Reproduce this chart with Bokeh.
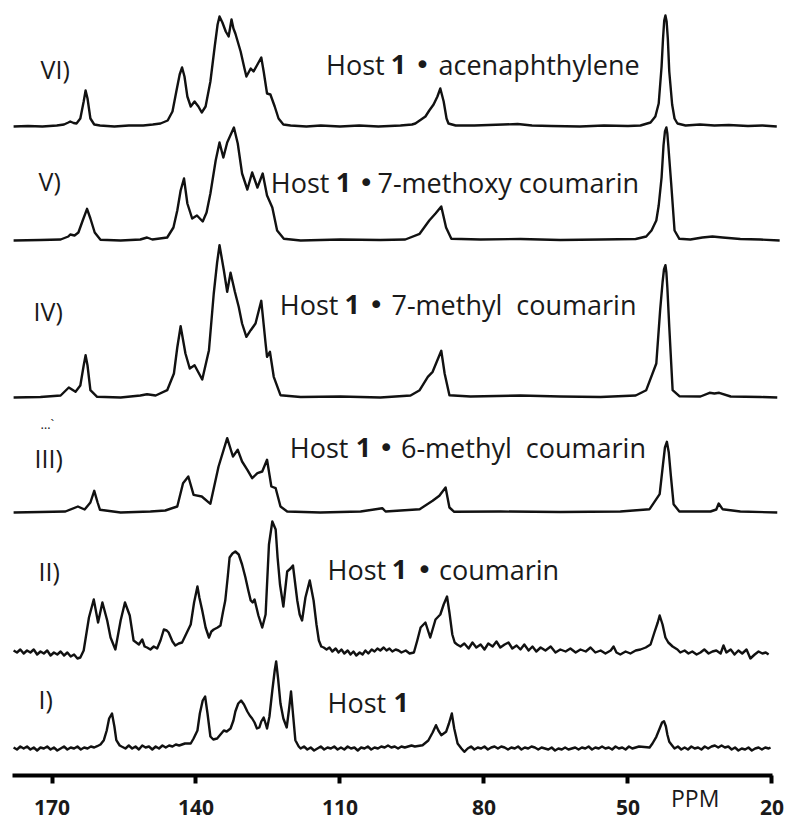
from bokeh.plotting import figure
from bokeh.models import Range1d, FixedTicker, Label, LinearAxis
from bokeh.embed import file_html
from bokeh.resources import INLINE

# ---------------- data (ppm, intensity above own baseline) ----------------
spec_VI = [(178.0,0),(175.0,0.5),(172.0,0),(169.0,1),(167.5,2),(166.6,4),(166.2,5),(165.5,3.5),(164.9,3),
    (164.1,8),(163.4,25),(163.0,36),(162.6,28),(162.0,8),(161.2,2),(160.0,1),(157.0,0),(154.0,1),(151.0,1),
    (149.0,2),(147.4,3),(145.9,6),(144.9,15),(144.1,35),(143.4,52),(142.9,59),(142.4,50),(141.8,30),(141.1,20),
    (140.3,25),(139.5,20),(138.8,14),(138.0,20),(137.0,45),(136.1,80),(135.5,102),(135.1,110),(134.5,104),
    (133.8,95),(133.2,90),(132.6,107),(132.2,98),(131.8,93),(130.7,75),(129.9,58),(129.5,50),(128.6,58),
    (128.0,55),(127.2,62),(126.4,69),(125.9,55),(125.2,33),(124.5,32),(123.6,20),(122.8,8),(121.8,2),(120.3,1),
    (117.0,0),(114.0,1),(110.0,0),(106.0,1),(102.0,0),(97.4,1),(95.0,2),(94.3,3),(92.2,10),(91.4,16),(90.5,22),
    (89.7,30),(89.1,38),(88.4,25),(87.8,8),(87.4,3),(85.9,1),(82.0,1),(76.0,2),(73.0,2.5),(70.0,1),(66.0,0.5),
    (60.0,0),(55.0,1),(50.0,0.5),(47.4,1),(45.3,4),(44.3,10),(43.6,23),(43.0,60),(42.7,88),(42.45,106),
    (42.2,111),(41.95,105),(41.7,88),(41.4,55),(40.8,22),(40.3,8),(39.7,3),(38.0,1),(35.0,2),(32.0,1),
    (29.0,1.5),(25.0,0.5),(22.0,1),(19.0,0)]

spec_V = [(178.0,0),(172.4,0.5),(168.2,1),(166.6,4),(166.2,6),(165.3,5),(164.5,8),(163.6,20),(162.7,31.7),
    (162.0,22),(161.1,8),(159.9,0.7),(155.7,0),(151.6,1),(150.2,3),(149.1,1),(146.0,3),(144.7,13),(143.9,30),
    (143.2,50),(142.5,62),(141.8,37),(140.8,22),(139.8,25),(138.6,19),(137.8,28),(137.0,47),(135.9,80),
    (135.1,98),(134.3,83),(133.5,98),(132.1,113),(131.3,97),(130.4,67),(129.3,51),(128.3,68),(127.2,53),
    (126.1,67),(125.2,45),(124.1,33),(123.1,10),(121.7,1.7),(118.2,0),(109.9,1),(101.6,0.5),(96.4,1),(93.4,6.7),
    (91.4,20),(90.1,27),(88.9,34),(87.9,13),(86.8,1.7),(80.7,1),(72.4,1.5),(64.1,0.5),(55.7,1),(48.4,1.5),
    (46.2,4),(45.1,10),(44.1,20),(43.6,35),(43.0,63),(42.6,95),(42.3,109),(42.0,113),(41.8,107),(41.6,95),
    (41.0,57),(40.3,10),(39.3,1.7),(37.0,1),(34.5,3),(32.4,4),(30.3,3),(26.6,1.5),(22.4,1),(18.4,0)]

spec_IV = [(178.0,0),(172.4,0.5),(168.2,2),(166.5,10),(165.1,5.7),(164.1,12),(163.4,32),(163.0,42.3),
    (162.6,32),(162.0,7.3),(160.6,0.7),(155.7,0),(151.6,2),(150.2,3.3),(148.4,2),(146.0,7.3),(144.6,24),
    (143.9,50),(143.2,71.3),(142.2,44),(141.3,29),(140.3,32.3),(138.7,18),(137.3,47.3),(136.3,104),(135.6,135),
    (135.1,152.3),(134.2,127.3),(133.5,105.7),(132.8,124.7),(131.9,105.7),(131.1,90.7),(130.4,74),(129.5,60.7),
    (128.6,67.3),(127.6,74),(126.4,96.7),(125.5,54),(125.2,40.7),(124.6,45.7),(123.8,20.7),(122.4,2.3),
    (118.2,0.5),(109.9,1),(101.6,0),(95.3,2),(93.4,7.3),(91.7,20.7),(90.7,25.7),(88.9,46.7),(88.2,24),
    (87.2,2.3),(82.8,1),(72.4,2),(64.1,1),(55.7,0.5),(48.4,2),(46.2,7.3),(44.1,34),(43.3,87.3),(42.8,115),
    (42.5,128),(42.2,132.3),(42.0,125),(41.8,110),(41.4,70.7),(40.7,7.3),(39.3,1.3),(34.9,1),(33.0,4.7),
    (32.0,4),(31.0,4.7),(28.6,1),(22.4,0.5),(18.9,0)]

spec_III = [(178.0,0),(172.4,0.5),(167.2,1),(164.6,6),(163.2,3),(162.0,10),(161.2,21.7),(160.5,10),
    (160.0,2.7),(155.7,0),(149.5,1),(146.4,2),(143.9,6),(142.7,29.3),(141.6,36),(140.5,17.7),(138.8,16),
    (137.0,8.7),(135.3,46),(133.5,74.3),(132.3,56),(131.3,62.7),(130.4,51),(129.3,42.7),(128.3,34.3),
    (127.2,39.3),(126.2,41),(125.2,52.7),(124.3,26),(123.4,24.3),(122.4,6),(121.0,1),(114.1,0),(105.7,1),
    (101.2,4.3),(100.5,1),(93.4,3.3),(90.7,11.7),(89.3,16.7),(88.0,25),(87.2,5),(86.2,0.7),(76.6,1),
    (64.1,0.5),(51.6,1),(45.5,3.3),(43.4,18.3),(42.7,48.3),(42.3,65),(41.9,70.7),(41.5,60),(41.1,38.3),
    (40.5,8.3),(39.3,1),(32.8,1),(31.6,3),(31.1,9),(30.3,3.3),(26.6,1),(18.9,0)]

spec_II = [(178.0,2),(177.3,0),(176.6,3),(175.9,-1),(175.2,2),(174.5,0),(173.8,3),(173.1,-2),(172.4,1),
    (171.7,-1),(171.0,2),(170.3,-3),(169.6,0),(168.9,-2),(168.2,1),(167.5,-3),(166.8,0),(166.1,-4),(165.4,-2),
    (164.7,-6),(164.1,-5),(163.4,2),(162.3,35),(161.3,53),(160.4,30),(159.5,50),(158.5,32),(157.8,15),
    (156.8,3),(155.7,32),(154.8,50),(153.8,37),(153.0,12),(151.9,8),(151.2,13),(150.7,6),(150.2,5),(149.5,3),
    (148.8,6),(148.1,4),(147.4,12),(146.7,23),(146.1,22),(145.7,20),(144.9,11),(144.3,7),(143.6,9),(142.9,10),
    (142.2,17),(141.1,28),(140.4,50),(139.7,66),(139.3,55),(138.7,42),(138.0,25),(137.3,15),(136.8,21),
    (136.3,23),(135.5,25),(134.9,27),(134.4,40),(133.9,52),(133.4,75),(133.0,95),(132.4,99),(131.8,101),
    (131.1,98),(130.4,88),(129.7,75),(129.1,62),(128.6,52),(128.2,50),(127.8,53),(127.0,37),(126.2,25),
    (125.5,38),(124.8,108),(124.1,131),(123.4,123),(123.0,95),(122.5,68),(121.8,46),(121.0,81),(120.3,84),
    (119.8,87),(118.9,52),(118.4,38),(117.9,32),(117.2,55),(116.3,72),(115.5,52),(114.9,28),(114.4,12),
    (113.9,6),(113.4,5),(112.8,3),(112.2,5),(111.6,1),(110.9,4),(110.3,0),(109.7,3),(109.1,-1),(108.4,2),
    (107.8,-2),(107.2,1),(106.6,-3),(105.9,0),(105.3,-2),(104.7,2),(104.1,-1),(103.4,3),(102.8,1),(102.2,4),
    (101.6,2),(100.9,5),(100.3,2),(99.7,4),(99.1,1),(98.4,3),(97.8,2),(97.2,0),(96.3,2),(95.5,-1),(94.6,0),
    (93.9,12),(93.2,25),(92.2,30),(91.2,15),(90.1,33),(89.1,38),(88.4,48),(87.7,56),(87.2,40),(86.6,18),
    (86.1,10),(85.6,8),(84.9,6),(84.1,9),(83.2,4),(82.4,10),(81.6,5),(80.7,8),(79.9,3),(79.1,9),(78.2,6),
    (77.4,11),(76.6,5),(75.7,8),(74.9,10),(74.1,4),(73.2,7),(72.4,3),(71.6,8),(70.7,2),(69.9,6),(69.1,1),
    (68.2,5),(67.2,2),(66.1,6),(65.1,0),(64.1,3),(63.0,1),(62.0,4),(60.9,0),(59.9,3),(58.8,1),(57.8,5),
    (56.8,0),(55.7,2),(54.7,-1),(53.6,2),(53.0,6),(52.4,0),(51.6,-2),(50.5,1),(49.5,-1),(48.4,2),(47.4,3),
    (46.3,5),(45.3,8),(44.5,20),(43.8,30),(43.4,37),(42.8,28),(42.2,15),(41.6,10),(40.7,6),(39.7,3),(39.1,0),
    (38.2,2),(37.4,-1),(36.6,1),(35.7,-2),(34.9,0),(34.1,3),(33.2,-1),(32.4,1),(31.6,2),(30.7,-1),(30.1,7),
    (29.5,0),(28.6,3),(27.8,-2),(27.0,2),(26.2,-1),(25.3,3),(24.5,-6),(23.6,-2),(22.8,1),(22.0,-1),(21.3,0),
    (20.7,-2)]

spec_I = [(178.0,1),(177.3,-1),(176.6,2),(175.9,0),(175.2,2),(174.5,-1),(173.8,1),(173.1,-2),(172.4,1),
    (171.7,0),(171.0,2),(170.3,-1),(169.6,1),(168.9,-2),(168.2,0),(167.5,2),(166.8,-1),(166.1,1),(165.4,0),
    (164.7,2),(164.0,-1),(163.3,1),(162.6,0),(161.9,2),(161.2,1),(160.6,2.3),(159.9,4),(159.2,8.3),(158.6,18),
    (158.1,30),(157.5,35),(157.0,22),(156.6,8.3),(155.9,3),(155.4,1.7),(154.7,0),(154.0,3),(153.3,0),(152.6,2),
    (151.9,-1),(151.2,3),(150.5,1),(149.8,2),(149.1,-1),(148.4,2),(147.7,0),(147.0,3),(146.3,1),(145.6,3),
    (144.9,2),(144.2,4),(143.5,3),(142.3,5),(141.1,5),(140.5,10),(139.7,18),(139.2,35),(138.6,48),(138.1,52),
    (137.6,35),(137.0,12),(136.4,9),(135.6,10),(134.9,14),(134.2,18),(133.6,17),(132.8,20),(132.2,28),
    (131.8,37),(131.2,45),(130.6,48),(130.0,44),(129.3,37),(128.8,33),(128.3,30),(127.8,26),(127.3,20),
    (126.8,21),(126.4,27),(125.9,31),(125.5,25),(125.2,20),(124.7,32),(124.1,58),(123.6,78),(123.3,87),
    (122.9,70),(122.4,45),(121.8,30),(121.1,21),(120.6,40),(120.2,57),(119.8,35),(119.3,8.3),(118.6,2),
    (118.2,0),(117.5,2),(116.8,-1),(116.1,1),(115.4,-2),(114.7,0),(114.0,2),(113.3,-1),(112.6,1),(111.9,0),
    (111.2,2),(110.5,-1),(109.8,1),(109.1,-1),(108.4,2),(107.7,0),(107.0,1),(106.3,-2),(105.6,1),(104.9,0),
    (104.2,2),(103.5,-1),(102.8,1),(102.1,0),(101.4,2),(100.7,1),(100.0,3),(99.3,1),(98.6,2),(97.9,0),
    (97.2,2),(96.5,1),(95.8,2),(95.1,3),(94.4,2),(92.8,3.3),(91.6,8),(90.7,16),(90.0,23.3),(89.5,18),
    (88.9,13.3),(88.4,15),(87.9,16.7),(87.3,25),(86.7,35),(86.2,20),(85.5,5),(84.7,0),(84.1,-3.3),(83.4,0),
    (82.7,2),(82.0,-1),(81.3,1),(80.6,0),(79.9,2),(79.2,-1),(78.5,1),(77.8,2),(77.1,0),(76.4,2),(75.7,1),
    (75.0,-1),(74.3,1),(73.6,0),(72.9,2),(72.2,-1),(71.5,1),(70.8,0),(70.1,2),(69.4,1),(68.7,-1),(68.0,1),
    (67.3,0),(66.6,-1),(65.9,1),(65.2,-2),(64.5,0),(63.8,-1),(63.1,1),(62.4,-1),(61.7,0),(61.0,1),(60.3,-1),
    (59.6,1),(58.9,0),(58.2,2),(57.5,-1),(56.8,1),(56.1,0),(55.4,2),(54.7,0),(54.0,1),(53.3,-1),(52.6,2),
    (51.9,0),(51.2,1),(50.5,-1),(49.8,2),(49.1,0),(48.4,1),(47.7,2),(45.5,1),(44.9,5),(44.1,11.7),(43.4,20),
    (42.9,26),(42.5,27.3),(42.1,22),(41.8,14),(41.4,6.7),(40.8,3),(40.3,0),(39.6,2),(38.9,-1),(38.2,1),
    (37.5,-1),(36.8,2),(36.1,0),(35.4,1),(34.7,-1),(34.0,2),(33.3,0),(32.6,2),(31.9,3),(31.2,1),(30.5,3),
    (29.8,1),(29.1,2),(28.4,-1),(27.7,1),(27.0,-2),(26.3,0),(25.6,-1),(24.9,1),(24.2,-2),(23.5,0),(22.8,1),
    (22.1,-1),(21.4,1),(20.7,0),(20.3,1)]

spectra = [spec_VI, spec_V, spec_IV, spec_III, spec_II, spec_I]
baselines = [649, 535, 378, 263, 123, 27]          # vertical offset of each trace
roman = ["VI)", "V)", "IV)", "III)", "II)", "I)"]
guests = ["acenaphthylene", "7-methoxy coumarin", "7-methyl\u00a0 coumarin",
          "6-methyl\u00a0 coumarin", "coumarin", ""]
tick_values = [170, 140, 110, 80, 50, 20]
unit_tick = 36            # where the unit name sits on the scale
unit_name = "PPM"

# ---------------- figure ----------------
W, H = 789, 819
p = figure(width=W, height=H, output_backend="svg", toolbar_location=None,
           x_range=Range1d(180.73, 16.35), y_range=Range1d(-44, 775),
           min_border_left=0, min_border_right=0, min_border_top=0, min_border_bottom=0)
p.outline_line_color = None
p.grid.visible = False
p.yaxis.visible = False
p.background_fill_color = "white"
p.border_fill_color = "white"

ax = p.xaxis[0]
ax.fixed_location = 0
ax.bounds = (19.9, 178.23)
ax.ticker = FixedTicker(ticks=tick_values)
ax.minor_tick_line_color = None
ax.axis_line_width = 4
ax.axis_line_color = "black"
ax.major_tick_line_width = 4
ax.major_tick_line_color = "black"
ax.major_tick_in = 0
ax.major_tick_out = 8
ax.major_label_standoff = 16
ax.major_label_text_font = "Open Sans"
ax.major_label_text_font_size = "21px"
ax.major_label_text_font_style = "bold"
ax.major_label_text_color = "#1a1a1a"

# unit name shown on the scale, between the 50 and 20 labels
ux = LinearAxis(fixed_location=0, ticker=FixedTicker(ticks=[unit_tick]),
                major_label_overrides={unit_tick: unit_name},
                axis_line_color=None, major_tick_line_color=None, minor_tick_line_color=None,
                major_tick_in=0, major_tick_out=0, major_label_standoff=6,
                major_label_text_font="Open Sans", major_label_text_font_size="23px",
                major_label_text_color="#1a1a1a")
p.add_layout(ux, "below")

for spec, base in zip(spectra, baselines):
    xs = [a for a, b in spec]
    ys = [b + base for a, b in spec]
    p.line(xs, ys, line_color="#111111", line_width=2.4, line_join="round")

# helpers mapping page pixel positions for annotation placement
def X(px):
    return 180.73 - px / 4.8

def Y(py):
    return 775 - py

FONT = "Open Sans"
TXT = "#1a1a1a"

def put(px, py, text, size, font=FONT, style="normal"):
    p.add_layout(Label(x=X(px), y=Y(py), text=text, text_font=font, text_font_size=size,
                       text_font_style=style, text_color=TXT,
                       text_baseline="alphabetic", text_align="left"))

roman_pos = [(40, 68), (38, 180), (33, 310), (34, 457), (38, 570), (38, 698)]
for t, (px, py) in zip(roman, roman_pos):
    put(px, py, t, "25px")

# (Host x, "1" x, bullet x, guest x, baseline y)
title_pos = [(325.6, 390.3, 414, 438, 64), (270.3, 335.3, 357.7, 377, 181.7),
             (279.3, 344, 367.7, 391, 304.3), (289.3, 355.3, 377.7, 400.5, 447.3),
             (327, 391.3, 416, 438.5, 569.3), (327, 393, 0, 0, 702.3)]
for g, (xh, x1, xb, xg, yb) in zip(guests, title_pos):
    put(xh, yb, "Host", "27px")
    put(x1, yb, "1", "27px", style="bold")
    if g:
        put(xb, yb, "\u2022", "27px", font="DejaVu Sans")
        put(xg, yb, g, "27px")

put(40, 423, "\u2026`", "13px")

open("out.html", "w").write(file_html(p, INLINE))
